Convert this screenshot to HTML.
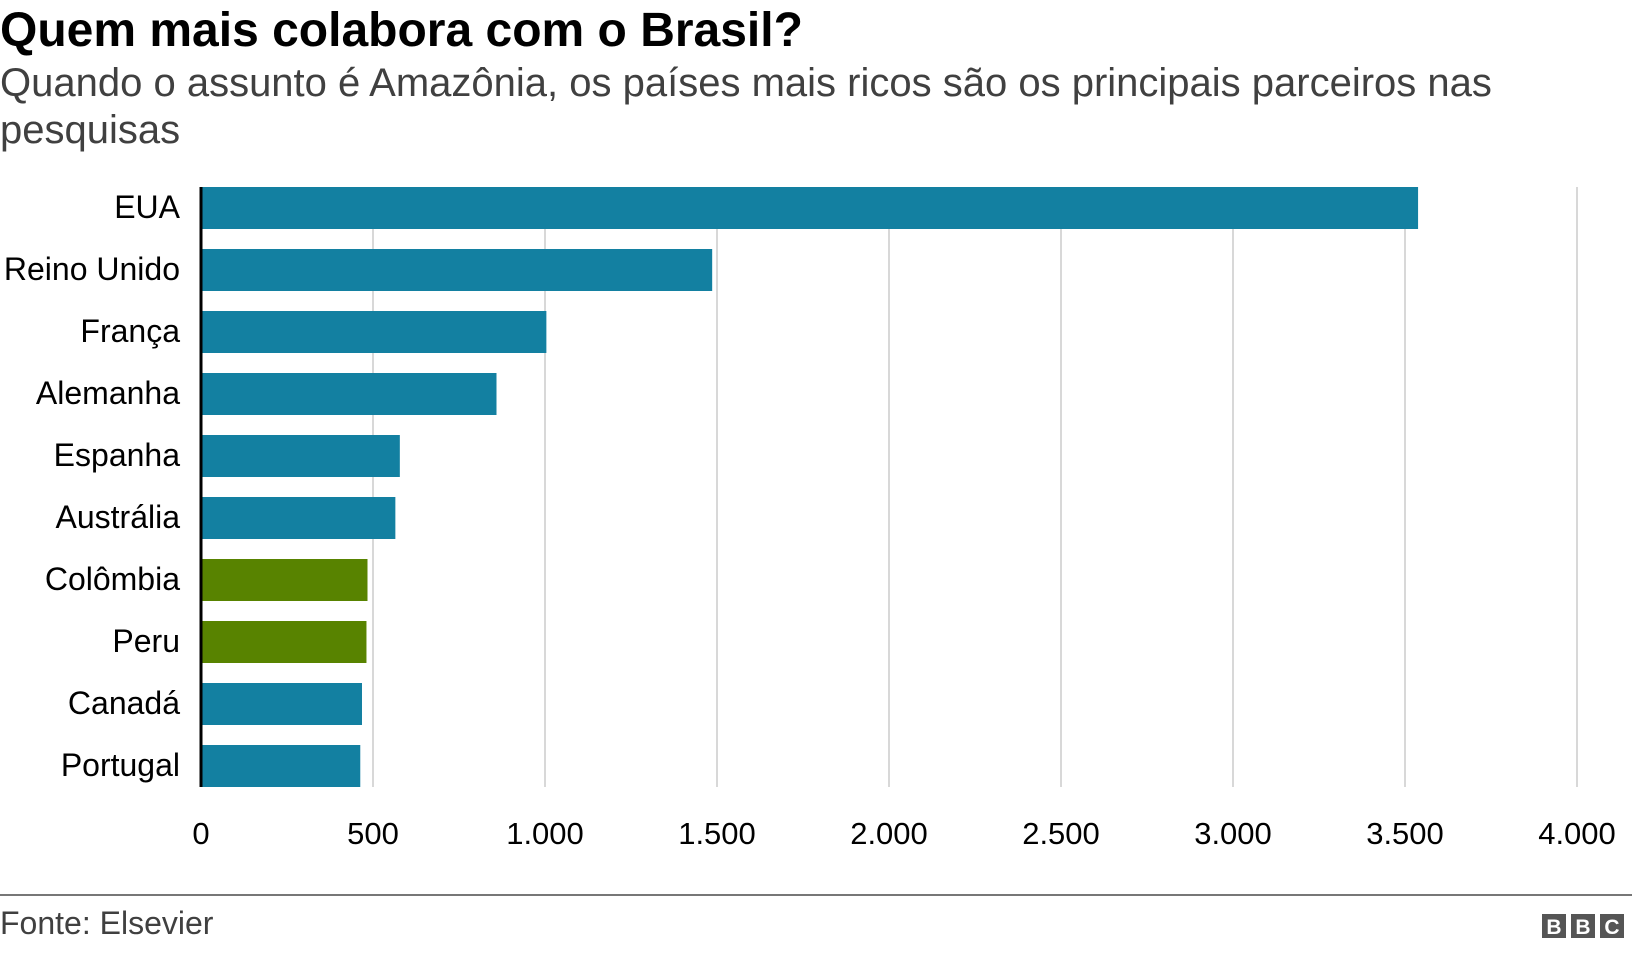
<!DOCTYPE html>
<html><head><meta charset="utf-8"><style>
body{margin:0;background:#fff;width:1632px;height:950px;overflow:hidden;font-family:"Liberation Sans",Arial,sans-serif}
</style></head><body>
<svg width="1632" height="950" xmlns="http://www.w3.org/2000/svg" font-family="Liberation Sans, Arial, sans-serif">
<text x="0" y="46" font-size="48" font-weight="bold" fill="#000">Quem mais colabora com o Brasil?</text>
<text x="0" y="96" font-size="40" fill="#404040">Quando o assunto é Amazônia, os países mais ricos são os principais parceiros nas</text>
<text x="0" y="143" font-size="40" fill="#404040">pesquisas</text>
<g id="grid"></g><g id="bars"></g><g id="labels"></g><g id="ticks"></g>
<line x1="201" y1="187" x2="201" y2="787" stroke="#000" stroke-width="3"/>
<line x1="0" y1="895" x2="1632" y2="895" stroke="#777" stroke-width="2"/>
<text x="0" y="934" font-size="32" fill="#404040">Fonte: Elsevier</text>
<g>
<rect x="1542" y="914" width="24" height="24" fill="#555"/><rect x="1571" y="914" width="24" height="24" fill="#555"/><rect x="1600" y="914" width="24" height="24" fill="#555"/>
<text x="1554" y="934" font-size="21" font-weight="bold" fill="#fff" text-anchor="middle">B</text>
<text x="1583" y="934" font-size="21" font-weight="bold" fill="#fff" text-anchor="middle">B</text>
<text x="1612" y="934" font-size="21" font-weight="bold" fill="#fff" text-anchor="middle">C</text>
</g>
</svg>
<script>
const categories=["EUA","Reino Unido","França","Alemanha","Espanha","Austrália","Colômbia","Peru","Canadá","Portugal"];
const values=[3538,1486,1004,859,578,565,484,481,468,463];
const regionGroup=["rich","rich","rich","rich","rich","rich","latam","latam","rich","rich"];
const tickValues=[0,500,1000,1500,2000,2500,3000,3500,4000];
const tickLabels=["0","500","1.000","1.500","2.000","2.500","3.000","3.500","4.000"];
const NS="http://www.w3.org/2000/svg";
const x=v=>201+v*(1376/4000);
const yTop=i=>187+i*62;
function mk(t,a,p){const e=document.createElementNS(NS,t);for(const k in a)e.setAttribute(k,a[k]);document.getElementById(p).appendChild(e);return e;}
tickValues.forEach((v,i)=>{
 if(v>0){const g=mk("line",{x1:x(v),x2:x(v),y1:187,y2:787,stroke:"#cccccc","stroke-width":1.5},"grid");
 
 }
 const t=mk("text",{x:x(v),y:844,"font-size":31,"text-anchor":"middle",fill:"#000"},"ticks");
 t.textContent=tickLabels[i];
 
 
});
categories.forEach((c,i)=>{
 const b=mk("rect",{x:202,y:yTop(i),width:x(values[i])-202,height:42,fill:regionGroup[i]==="latam"?"#588300":"#1380a1"},"bars");
 
 
 const t=mk("text",{x:180,y:yTop(i)+31,"font-size":32,"text-anchor":"end",fill:"#000"},"labels");
 t.textContent=c;
 
 
});
</script>
</body></html>
